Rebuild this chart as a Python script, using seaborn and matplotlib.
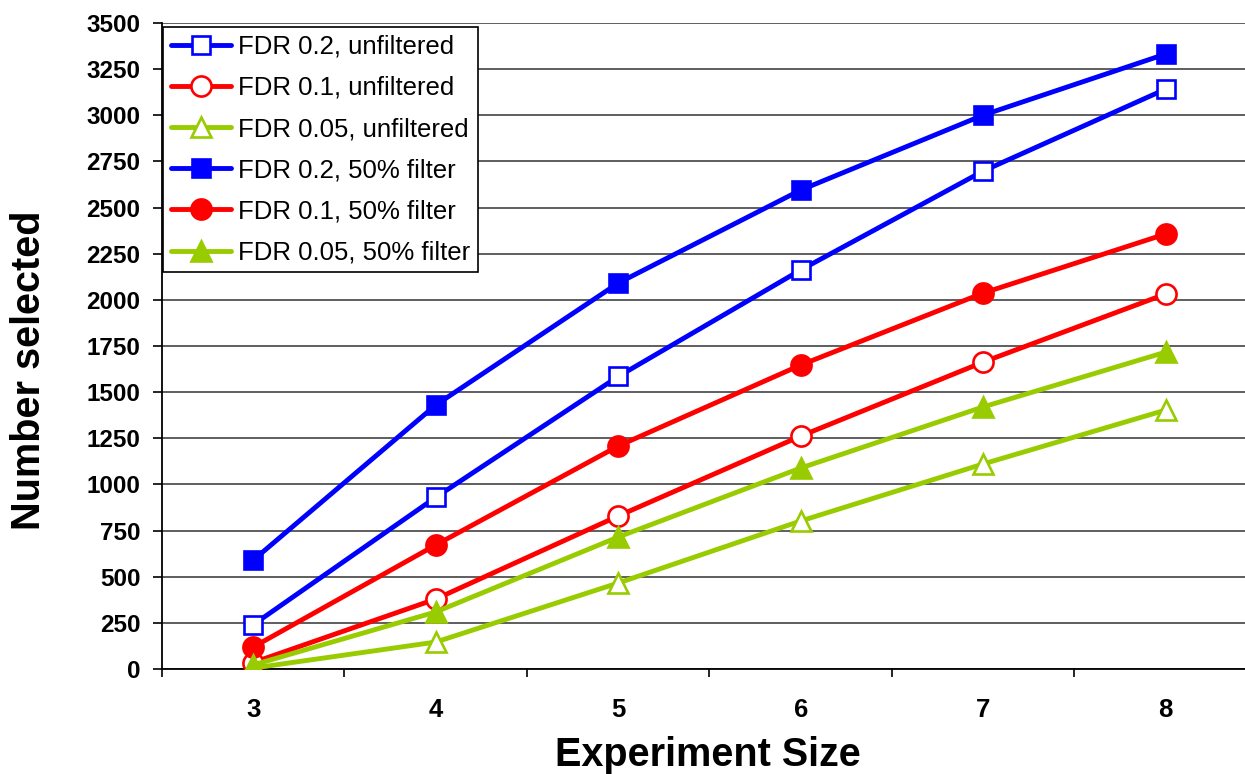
import numpy as np
import pandas as pd
import matplotlib
matplotlib.use("Agg")
import matplotlib.pyplot as plt
import seaborn as sns

sizes = [3, 4, 5, 6, 7, 8]
fdr02_unfilt = [240, 930, 1585, 2162, 2698, 3142]
fdr01_unfilt = [35, 379, 829, 1262, 1663, 2032]
fdr005_unfilt = [5, 146, 466, 802, 1111, 1403]
fdr02_filt = [590, 1430, 2091, 2595, 3001, 3332]
fdr01_filt = [119, 672, 1208, 1647, 2037, 2357]
fdr005_filt = [22, 309, 715, 1089, 1420, 1717]

labels = ["FDR 0.2, unfiltered", "FDR 0.1, unfiltered", "FDR 0.05, unfiltered",
          "FDR 0.2, 50% filter", "FDR 0.1, 50% filter", "FDR 0.05, 50% filter"]
series = [fdr02_unfilt, fdr01_unfilt, fdr005_unfilt, fdr02_filt, fdr01_filt, fdr005_filt]
colors = ["#0000FF", "#FF0000", "#99CC00", "#0000FF", "#FF0000", "#99CC00"]
markers = ["s", "o", "^", "s", "o", "^"]
filled = [False, False, False, True, True, True]

sns.set_theme(style="white")
plt.rcParams['font.family'] = ['Liberation Sans', 'DejaVu Sans']
plt.rcParams.update({"text.color": "black", "axes.labelcolor": "black",
                     "xtick.color": "black", "ytick.color": "black"})

fig = plt.figure(figsize=(12.45, 7.74), dpi=100)
ax = fig.add_axes([162/1245, (774-669)/774, (1257-162)/1245, 646/774])

for lab, vals, c, m, f in zip(labels, series, colors, markers, filled):
    df = pd.DataFrame({"size": sizes, "value": vals})
    sns.lineplot(data=df, x="size", y="value", ax=ax, color=c, lw=3.5,
                 marker=m, markersize=13.5 if m == "s" else 14.5,
                 markerfacecolor=(c if f else "white"), markeredgecolor=c,
                 markeredgewidth=1.9, label=lab, zorder=3)

ax.set_xlim(2.5, 8.5)
ax.set_ylim(0, 3500)
ax.set_yticks(np.arange(0, 3501, 250))
ax.yaxis.grid(True, color="#333333", lw=1.1)
ax.xaxis.grid(False)
ax.set_xticks(sizes)
ax.set_xticks(np.arange(2.5, 8.6, 1.0), minor=True)
ax.tick_params(axis="x", which="major", length=0, pad=21, labelsize=18.5, labelcolor="black")
ax.tick_params(axis="x", which="minor", length=6, width=1.2, color="black", direction="out", bottom=True)
ax.tick_params(axis="y", length=6.5, width=1.2, color="black", direction="out", left=True,
               labelsize=17.5, pad=9, labelcolor="black")
for lbl in ax.get_xticklabels() + ax.get_yticklabels():
    lbl.set_fontweight("bold")

for s in ["top", "right"]:
    ax.spines[s].set_visible(False)
for s in ["left", "bottom"]:
    ax.spines[s].set_color("black")
    ax.spines[s].set_linewidth(1.3)

ax.set_xlabel("Experiment Size", fontsize=28.5, fontweight="bold", color="black")
ax.set_ylabel("Number selected", fontsize=28.5, fontweight="bold", color="black")
ax.xaxis.set_label_coords(0.4986, -0.103)
ax.yaxis.set_label_coords(-0.104, 0.463)

leg = ax.legend(loc="upper left", bbox_to_anchor=(0.001, 0.994), fontsize=18.5,
                frameon=True, fancybox=False, edgecolor="black", framealpha=1,
                handlelength=2.35, handletextpad=0.27, borderpad=0.3,
                labelspacing=0.67, borderaxespad=0.0)
leg.get_frame().set_linewidth(1.2)
for t in leg.get_texts():
    t.set_color("black")

fig.savefig("out.png", dpi=100)
